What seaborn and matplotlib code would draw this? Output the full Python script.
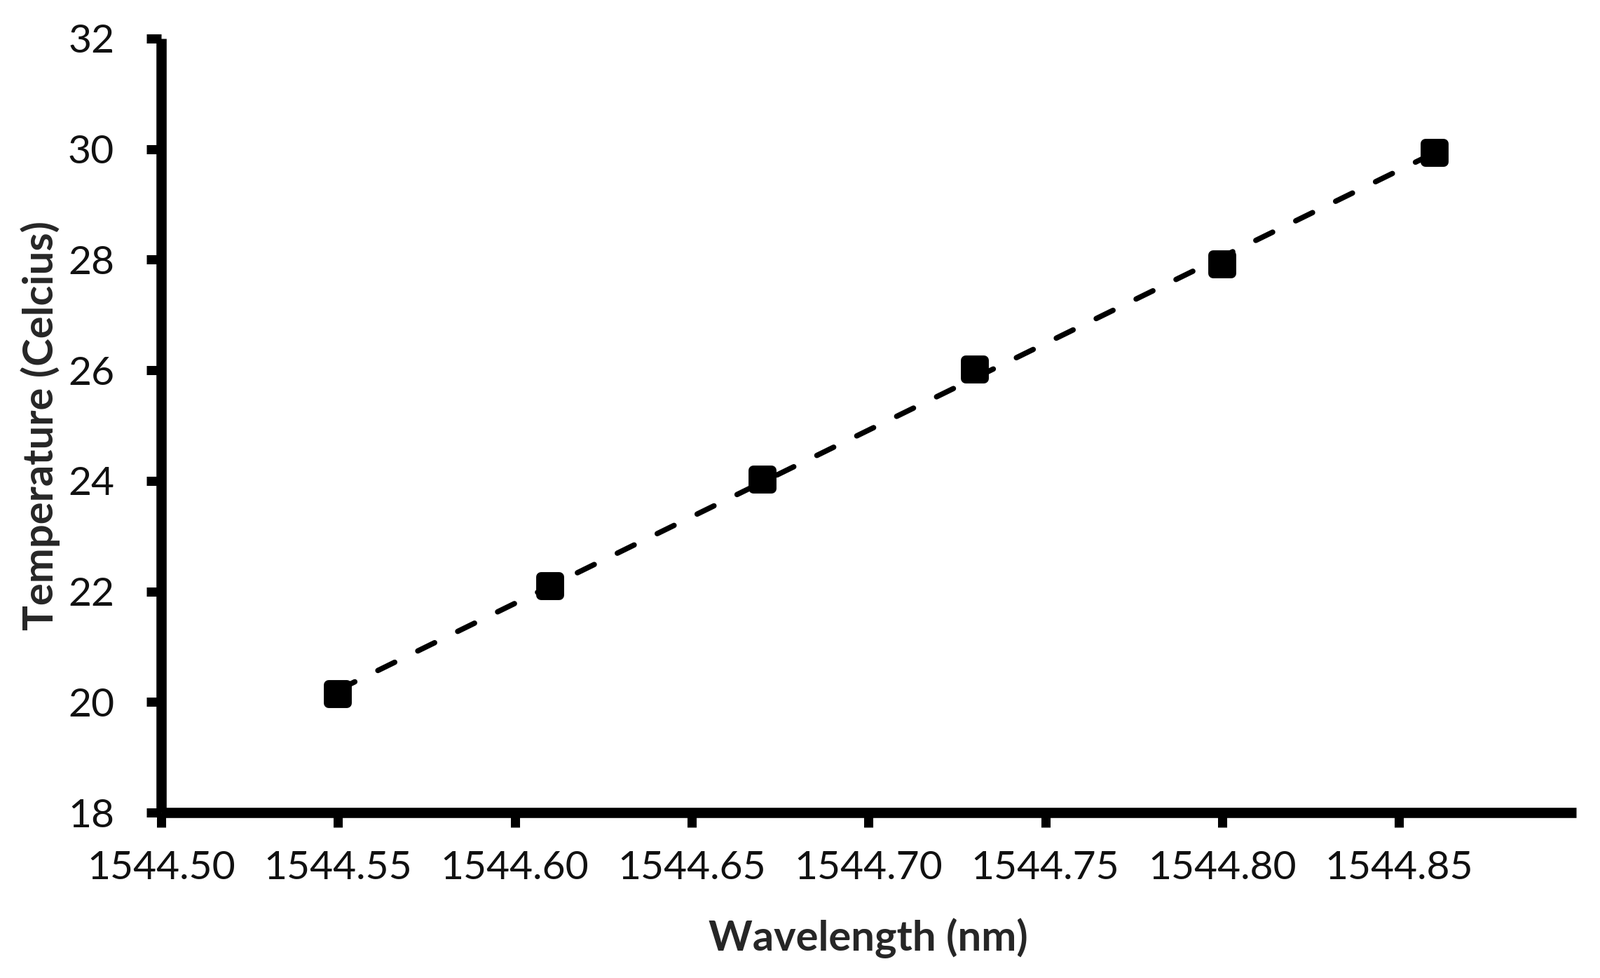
import numpy as np
import pandas as pd
import seaborn as sns
import matplotlib
matplotlib.use("Agg")
import matplotlib.pyplot as plt
from matplotlib.markers import MarkerStyle

wavelength_nm = [1544.55, 1544.61, 1544.67, 1544.73, 1544.80, 1544.86]
temperature_c = [20.15, 22.10, 24.02, 26.02, 27.92, 29.93]

x_ticks = [1544.50, 1544.55, 1544.60, 1544.65, 1544.70, 1544.75, 1544.80, 1544.85]
y_ticks = [18, 20, 22, 24, 26, 28, 30, 32]


def main():
    df = pd.DataFrame({"Wavelength": wavelength_nm, "Temperature": temperature_c})

    sns.set_theme(style="white")
    plt.rcParams["font.family"] = ["Lato", "DejaVu Sans"]

    fig = plt.figure(figsize=(22.83, 13.95), dpi=100)
    ax = fig.add_axes([0.1007, 0.169, 0.8843, 0.7916])

    # linear trendline over the data range, dashed
    sns.regplot(data=df, x="Wavelength", y="Temperature", ax=ax,
                scatter=False, ci=None, color="black",
                line_kws=dict(linestyle=(0, (3.5, 4.8)), linewidth=5.5,
                              dash_capstyle="round"))

    sq = MarkerStyle("s", joinstyle="round")
    sns.scatterplot(data=df, x="Wavelength", y="Temperature", ax=ax,
                    marker=sq, s=330, color="black", edgecolor="black",
                    linewidth=10, zorder=5)

    ax.set_xlim(1544.50, 1544.90)
    ax.set_ylim(18, 32)
    ax.set_xticks(x_ticks)
    ax.set_xticklabels([f"{v:.2f}" for v in x_ticks])
    ax.set_yticks(y_ticks)
    ax.set_yticklabels([str(v) for v in y_ticks])

    for side in ["top", "right"]:
        ax.spines[side].set_visible(False)
    for side in ["left", "bottom"]:
        ax.spines[side].set_linewidth(10.5)
        ax.spines[side].set_color("black")
        ax.spines[side].set_capstyle("butt")

    # white style turns the ticks off; the reference has outward ticks
    ax.tick_params(axis="both", direction="out", length=15, width=9.4,
                   bottom=True, left=True,
                   color="black", labelsize=41, labelcolor="#111111")
    ax.tick_params(axis="x", pad=24)
    ax.tick_params(axis="y", pad=33)

    ax.set_xlabel("Wavelength (nm)", fontsize=43, fontweight="bold", labelpad=32)
    ax.set_ylabel("Temperature (Celcius)", fontsize=43, fontweight="bold", labelpad=8)

    fig.savefig("out.png", dpi=100, facecolor="white")


if __name__ == "__main__":
    main()
